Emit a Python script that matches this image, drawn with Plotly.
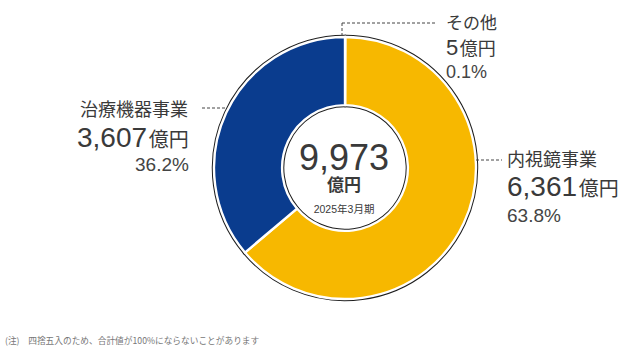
import plotly.graph_objects as go

W, H = 643, 351

# ---- data ----
segments = ["その他", "内視鏡事業", "治療機器事業"]
values = [5, 6361, 3607]
value_labels = ["5", "6,361", "3,607"]
percents = ["0.1%", "63.8%", "36.2%"]
colors = ["#eeeeee", "#F7B800", "#0A3C8E"]
total_label = "9,973"
unit = "億円"
period = "2025年3月期"
note = "(注)　四捨五入のため、合計値が100%にならないことがあります"

FONT = "Liberation Sans, Arial, Noto Sans CJK JP, sans-serif"
JFONT = "Noto Sans CJK JP, sans-serif"
TXT = "#3a3a3a"


def px(x):
    return x / W


def py(y):
    return 1 - y / H


cx, cy, r = 345, 168, 131
domain = dict(x=[px(cx - r), px(cx + r)], y=[py(cy + r), py(cy - r)])

fig = go.Figure()
# dark outline layer
fig.add_trace(go.Pie(
    labels=segments, values=values, sort=False, direction="clockwise", rotation=0,
    hole=0.48, domain=domain, textinfo="none", hoverinfo="skip", showlegend=False,
    marker=dict(colors=colors, line=dict(color="#1e1e1e", width=4.4)),
))
# fill layer with white gaps
fig.add_trace(go.Pie(
    labels=segments, values=values, sort=False, direction="clockwise", rotation=0,
    hole=0.48, domain=domain, textinfo="none", hoverinfo="skip", showlegend=False,
    marker=dict(colors=colors, line=dict(color="#ffffff", width=2.4)),
))

ann = []


def add(text, x, y, size, xanchor="left", color=TXT, family=FONT, yanchor="middle"):
    ann.append(dict(text=text, x=px(x), y=py(y), xref="paper", yref="paper",
                    xanchor=xanchor, yanchor=yanchor, showarrow=False,
                    font=dict(size=size, color=color, family=family)))


def amount(v, s2):
    return f"{v}<span style='font-size:{s2}px'>\u200a{unit}</span>"

# center: total, unit and period in one block
add(f"<span style='font-size:36px'>{total_label}</span><br>"
    f"<span style='font-size:17px'><b>{unit}</b></span><br>"
    f"<span style='font-size:10.5px'>{period}</span>",
    344, 176, 16.5, "center")

# 治療機器事業 (left, right aligned)
add(segments[2], 190, 108, 18, "right", family=JFONT)
add(amount(value_labels[2], 20), 191, 137, 28, "right")
add(percents[2], 191, 164, 19, "right", color="#444")

# 内視鏡事業 (right)
add(segments[1], 505, 158, 18, "left", family=JFONT)
add(amount(value_labels[1], 20), 505, 187, 28, "left")
add(percents[1], 505, 215, 19, "left", color="#444")

# その他
add(segments[0], 444, 22, 17, "left", family=JFONT)
add(amount(value_labels[0], 18), 444, 48, 22, "left")
add(percents[0], 444, 72, 18, "left", color="#444")

# footnote
add(note, 3, 340, 8.7, "left", color="#777", family=JFONT)

dash = dict(color="#444", width=1, dash="3px,2px")
shapes = [
    dict(type="line", xref="paper", yref="paper", x0=px(202), x1=px(226), y0=py(108), y1=py(108), line=dash),
    dict(type="line", xref="paper", yref="paper", x0=px(476), x1=px(502), y0=py(160), y1=py(160), line=dash),
    dict(type="line", xref="paper", yref="paper", x0=px(342), x1=px(342), y0=py(23), y1=py(37), line=dash),
    dict(type="line", xref="paper", yref="paper", x0=px(342), x1=px(436), y0=py(23), y1=py(23), line=dash),
]

fig.update_layout(
    width=W, height=H, margin=dict(l=0, r=0, t=0, b=0),
    paper_bgcolor="white", plot_bgcolor="white",
    annotations=ann, shapes=shapes,
)

fig.write_html("out.html")
